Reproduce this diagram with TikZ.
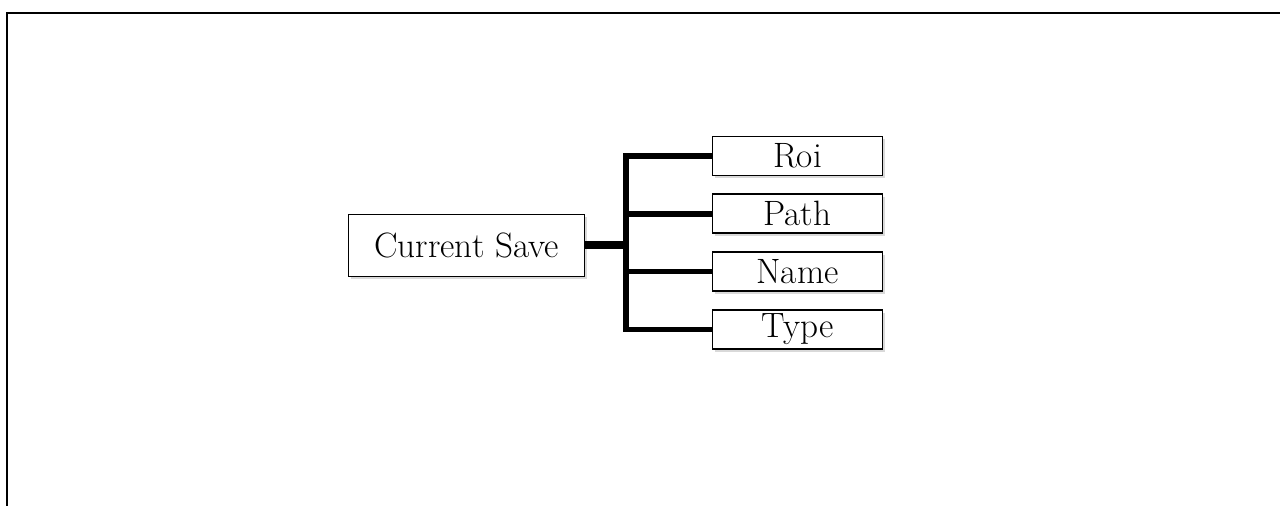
\documentclass[tikz,border=0pt]{standalone}
\usetikzlibrary{positioning,shadows}
\begin{document}
\begin{tikzpicture}[x=0.5pt,y=-0.5pt]
        \tikzset{every node/.style={font=\fontsize{17.6}{21}\selectfont},
          box/.style={draw, line width=0.9pt, fill=white, inner sep=0pt,
            drop shadow={opacity=0.3, shadow xshift=1pt, shadow yshift=-1.4pt}},
          savebox/.style={box, minimum width=118pt, minimum height=31pt},
          fieldbox/.style={box, minimum width=85pt, minimum height=19.5pt},
          branch/.style={line width=2.8pt},
          stub/.style={line width=4pt}}
        \useasboundingbox (0,0) rectangle (1280,506);
        % frame
        \draw [line width=1.1pt] (7,506) -- (7,13) -- (1280,13);
        % boxes
        \node [savebox] (save) at (466.5,245.5) {Current Save};
        \node [fieldbox] (roi) at (797.5,156) {Roi};
        \node [fieldbox, below=8.5pt of roi] (path) {Path};
        \node [fieldbox, below=8.5pt of path] (name) {Name};
        \node [fieldbox, below=8.5pt of name] (type) {Type};
        \coordinate (trunk) at (626,245.5);
        % connectors
        \draw [stub] (save.east) -- (trunk);
        \draw [branch] (roi.west) -| (trunk) |- (type.west);
        \draw [branch] (path.west) -- (path.west -| trunk);
        \draw [branch] (name.west) -- (name.west -| trunk);
\end{tikzpicture}
\end{document}
